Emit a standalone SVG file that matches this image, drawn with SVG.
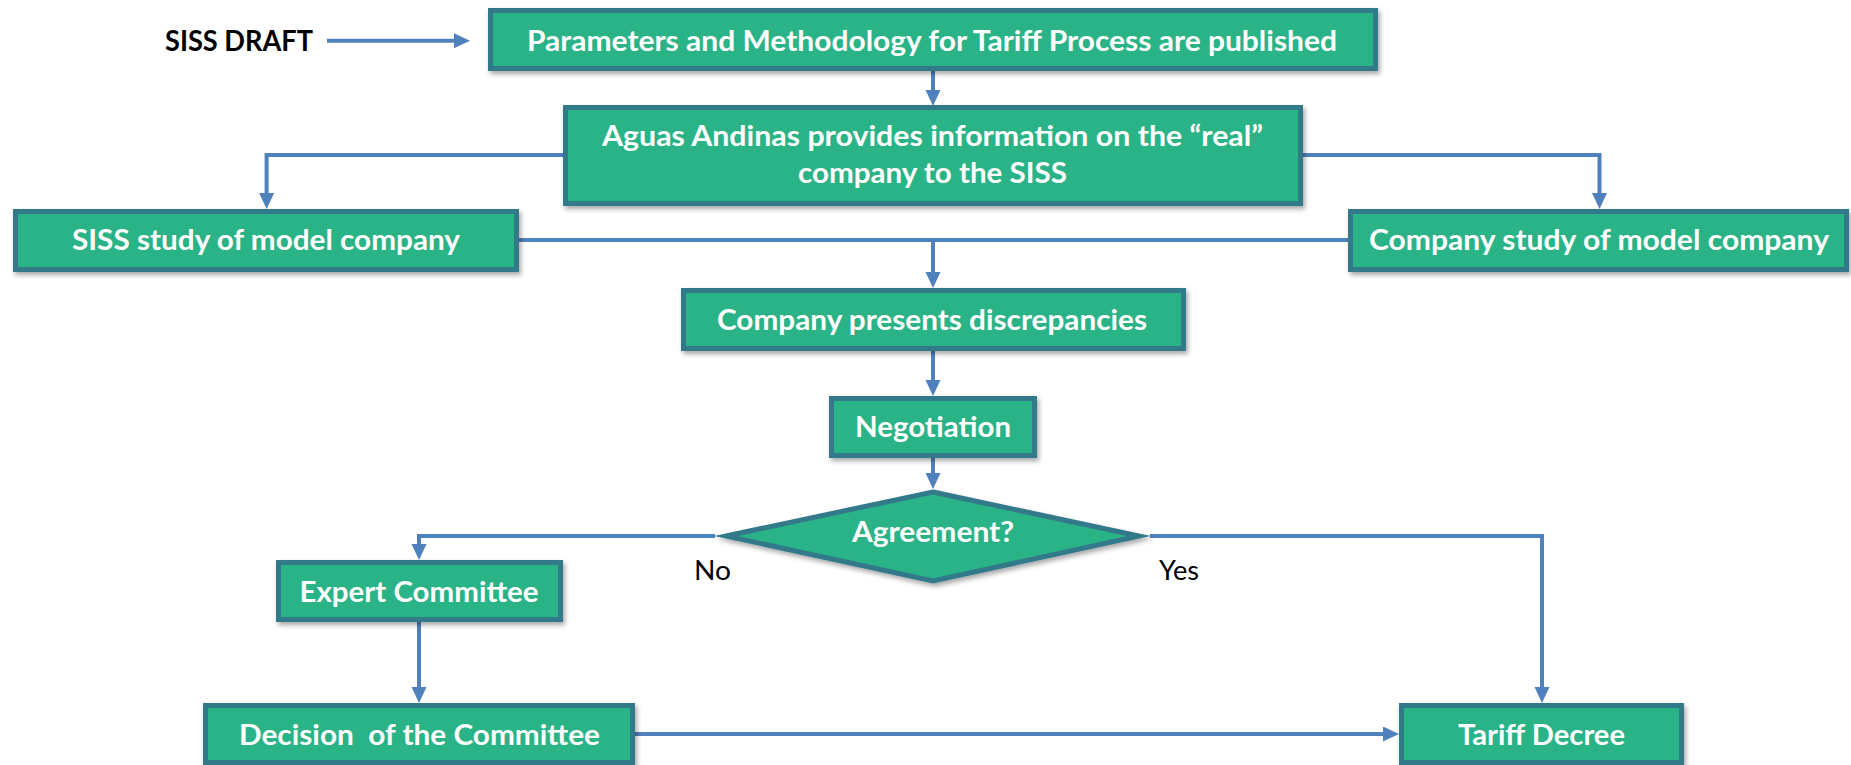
<svg xmlns="http://www.w3.org/2000/svg" width="1851" height="765" viewBox="0 0 1851 765">
<defs>
<filter id="sh" x="-10%" y="-20%" width="130%" height="150%">
<feGaussianBlur in="SourceAlpha" stdDeviation="2.5"/>
<feOffset dx="2" dy="3" result="b"/>
<feComponentTransfer><feFuncA type="linear" slope="0.35"/></feComponentTransfer>
<feMerge><feMergeNode/><feMergeNode in="SourceGraphic"/></feMerge>
</filter>
<marker id="ah" markerUnits="userSpaceOnUse" markerWidth="16" markerHeight="16" refX="4" refY="7.5" orient="auto">
<path d="M0,0 L16,7.5 L0,15 z" fill="#4F81BD"/>
</marker>
</defs>
<style>
.box{fill:#2BB386;stroke:#31798A;stroke-width:5;filter:url(#sh)}
.dia{fill:#2BB386;stroke:#31798A;stroke-width:5;stroke-miterlimit:10;filter:url(#sh)}
.t{font-family:Lato,"Open Sans","Liberation Sans",sans-serif;font-weight:bold;font-size:28px;fill:#FFFFFF;text-anchor:middle}
.lbl{font-family:Lato,"Open Sans","Liberation Sans",sans-serif;font-size:27px;fill:#000000;text-anchor:middle}
.c{fill:none;stroke:#4F81BD;stroke-width:4}
.a{marker-end:url(#ah)}
</style>
<rect width="1851" height="765" fill="#FFFFFF"/>
<g id="connectors">
<path class="c a" d="M327,40.7 H458"/>
<path class="c a" d="M933,71 V94"/>
<path class="c a" d="M563,155 H266.6 V197"/>
<path class="c a" d="M1303,155 H1599.5 V197"/>
<path class="c" d="M519,240 H1348"/>
<path class="c a" d="M933,240 V276"/>
<path class="c a" d="M933,351 V384"/>
<path class="c a" d="M933,458 V477"/>
<path class="c a" d="M715,536 H419 V548"/>
<path class="c a" d="M1150,536 H1542 V691"/>
<path class="c a" d="M419,622 V691"/>
<path class="c a" d="M635,734 H1387"/>
</g>
<g id="siss-draft">
<text x="239" y="50.5" textLength="148" lengthAdjust="spacingAndGlyphs" style="font-family:Lato,'Open Sans','Liberation Sans',sans-serif;font-weight:bold;font-size:28px;fill:#000000;text-anchor:middle">SISS DRAFT</text>
</g>
<g id="n1">
<rect class="box" x="490.5" y="10.5" width="885" height="58"/>
<text class="t" x="932" y="50.5" textLength="810" lengthAdjust="spacingAndGlyphs">Parameters and Methodology for Tariff Process are published</text>
</g>
<g id="n2">
<rect class="box" x="565.5" y="107.5" width="735" height="96"/>
<text class="t" x="932.5" y="145.5" textLength="661" lengthAdjust="spacingAndGlyphs">Aguas Andinas provides information on the “real”</text>
<text class="t" x="932.5" y="183" textLength="269" lengthAdjust="spacingAndGlyphs">company to the SISS</text>
</g>
<g id="n3">
<rect class="box" x="15.5" y="211.5" width="501" height="58"/>
<text class="t" x="266" y="250" textLength="388" lengthAdjust="spacingAndGlyphs">SISS study of model company</text>
</g>
<g id="n4">
<rect class="box" x="1350.5" y="211.5" width="496" height="58"/>
<text class="t" x="1599" y="250" textLength="460" lengthAdjust="spacingAndGlyphs">Company study of model company</text>
</g>
<g id="n5">
<rect class="box" x="683.5" y="290.5" width="500" height="58"/>
<text class="t" x="932" y="330" textLength="430" lengthAdjust="spacingAndGlyphs">Company presents discrepancies</text>
</g>
<g id="n6">
<rect class="box" x="831.5" y="398.5" width="203" height="57"/>
<text class="t" x="933" y="437" textLength="156" lengthAdjust="spacingAndGlyphs">Negotiation</text>
</g>
<g id="n7">
<polygon class="dia" points="933,492 1139,536 933,581 726,536"/>
<text class="t" x="933" y="541.5" textLength="162" lengthAdjust="spacingAndGlyphs">Agreement?</text>
</g>
<g id="labels">
<text class="lbl" x="712.5" y="580" textLength="37" lengthAdjust="spacingAndGlyphs">No</text>
<text class="lbl" x="1179" y="580" textLength="40" lengthAdjust="spacingAndGlyphs">Yes</text>
</g>
<g id="n8">
<rect class="box" x="278.5" y="562.5" width="282" height="57"/>
<text class="t" x="419" y="601.5" textLength="239" lengthAdjust="spacingAndGlyphs">Expert Committee</text>
</g>
<g id="n9">
<rect class="box" x="205.5" y="705.5" width="427" height="57"/>
<text class="t" x="419.5" y="745" xml:space="preserve" textLength="361" lengthAdjust="spacingAndGlyphs">Decision  of the Committee</text>
</g>
<g id="n10">
<rect class="box" x="1401.5" y="705.5" width="280" height="57"/>
<text class="t" x="1541.5" y="745" textLength="167" lengthAdjust="spacingAndGlyphs">Tariff Decree</text>
</g>
</svg>
